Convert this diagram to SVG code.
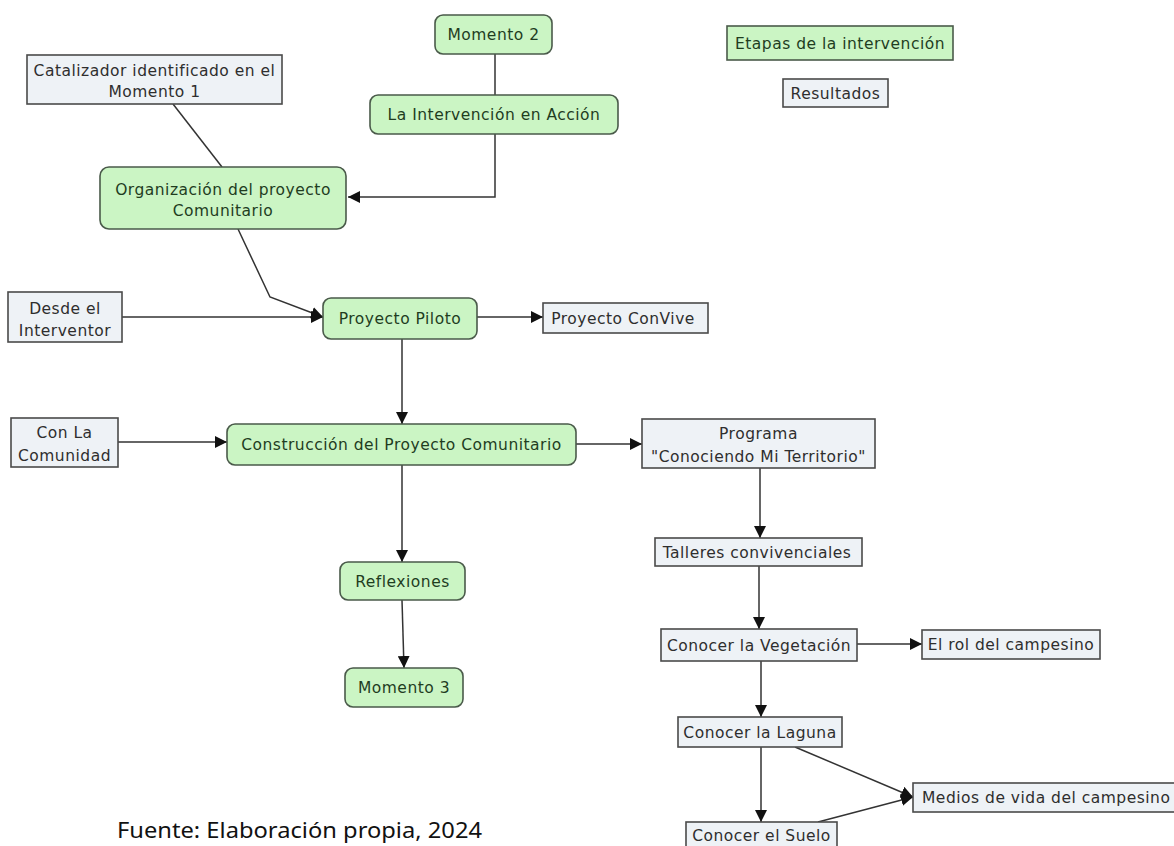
<svg xmlns="http://www.w3.org/2000/svg" width="1174" height="846" viewBox="0 0 1174 846">
  <style>
    .stage rect { fill: #cbf5c4; stroke: #4a5a4a; stroke-width: 1.6; }
    .result rect { fill: #eef2f6; stroke: #4a4a4a; stroke-width: 1.6; }
    .stage text { fill: #1f3d1f; }
    .result text { fill: #2e2e2e; }
    text { font-family: "DejaVu Sans", Verdana, sans-serif; font-size: 15.5px; letter-spacing: 0.5px; text-anchor: middle; }
    .edges path { fill: none; stroke: #333; stroke-width: 1.5; }
    .caption { font-family: "Noto Sans", "Liberation Sans", sans-serif; font-size: 21px; letter-spacing: 0; fill: #111; text-anchor: start; }
  </style>
  <defs>
    <marker id="arrow" viewBox="0 0 10 10" refX="10" refY="5" markerWidth="12" markerHeight="12" markerUnits="userSpaceOnUse" orient="auto">
      <path d="M0,0 L10,5 L0,10 z" fill="#111"/>
    </marker>
  </defs>
  <rect width="1174" height="846" fill="#ffffff"/>

  <!-- connectors -->
  <g class="edges">
    <path d="M495,54 V95"/>
    <path d="M495,134 V197 H348" marker-end="url(#arrow)"/>
    <path d="M173,104 L222,167"/>
    <path d="M238,229 L270,297 L323,317" marker-end="url(#arrow)"/>
    <path d="M122,317 H323" marker-end="url(#arrow)"/>
    <path d="M477,317 H543" marker-end="url(#arrow)"/>
    <path d="M402,339 V424" marker-end="url(#arrow)"/>
    <path d="M118,442 H227" marker-end="url(#arrow)"/>
    <path d="M576,444 H642" marker-end="url(#arrow)"/>
    <path d="M402,465 V562" marker-end="url(#arrow)"/>
    <path d="M402,600 L404,668" marker-end="url(#arrow)"/>
    <path d="M760,468 V538" marker-end="url(#arrow)"/>
    <path d="M759,566 V629" marker-end="url(#arrow)"/>
    <path d="M857,644 H922" marker-end="url(#arrow)"/>
    <path d="M761,661 V717" marker-end="url(#arrow)"/>
    <path d="M761,747 V822" marker-end="url(#arrow)"/>
    <path d="M795,747 L913,797" marker-end="url(#arrow)"/>
    <path d="M818,822 L913,797" marker-end="url(#arrow)"/>
  </g>

  <!-- nodes -->
  <g id="catalizador" class="result">
    <rect x="27" y="55" width="255" height="49"/>
    <text x="154.5" y="76">Catalizador identificado en el</text>
    <text x="154.5" y="97">Momento 1</text>
  </g>
  <g id="momento2" class="stage">
    <rect x="435" y="15" width="117" height="39" rx="8"/>
    <text x="493.5" y="40">Momento 2</text>
  </g>
  <g id="intervencion" class="stage">
    <rect x="370" y="95" width="248" height="39" rx="8"/>
    <text x="494" y="120">La Intervención en Acción</text>
  </g>
  <g id="organizacion" class="stage">
    <rect x="100" y="167" width="246" height="62" rx="9"/>
    <text x="223" y="195">Organización del proyecto</text>
    <text x="223" y="216">Comunitario</text>
  </g>
  <g id="etapas" class="stage">
    <rect x="727" y="26" width="226" height="34"/>
    <text x="840" y="49">Etapas de la intervención</text>
  </g>
  <g id="resultados" class="result">
    <rect x="783" y="79" width="105" height="28"/>
    <text x="835.5" y="99">Resultados</text>
  </g>
  <g id="desde-interventor" class="result">
    <rect x="8" y="292" width="114" height="50"/>
    <text x="65" y="314">Desde el</text>
    <text x="65" y="336">Interventor</text>
  </g>
  <g id="proyecto-piloto" class="stage">
    <rect x="323" y="298" width="154" height="41" rx="8"/>
    <text x="400" y="324">Proyecto Piloto</text>
  </g>
  <g id="proyecto-convive" class="result">
    <rect x="543" y="303" width="165" height="30"/>
    <text x="623" y="324">Proyecto ConVive</text>
  </g>
  <g id="con-la-comunidad" class="result">
    <rect x="11" y="418" width="107" height="49"/>
    <text x="64.5" y="438">Con La</text>
    <text x="64.5" y="461">Comunidad</text>
  </g>
  <g id="construccion" class="stage">
    <rect x="227" y="424" width="349" height="41" rx="8"/>
    <text x="401.5" y="450">Construcción del Proyecto Comunitario</text>
  </g>
  <g id="programa" class="result">
    <rect x="642" y="419" width="233" height="49"/>
    <text x="758.5" y="439">Programa</text>
    <text x="758.5" y="462">"Conociendo Mi Territorio"</text>
  </g>
  <g id="reflexiones" class="stage">
    <rect x="340" y="562" width="125" height="38" rx="8"/>
    <text x="402.5" y="587">Reflexiones</text>
  </g>
  <g id="momento3" class="stage">
    <rect x="345" y="668" width="118" height="39" rx="8"/>
    <text x="404" y="693">Momento 3</text>
  </g>
  <g id="talleres" class="result">
    <rect x="655" y="538" width="207" height="28"/>
    <text x="757" y="558">Talleres convivenciales</text>
  </g>
  <g id="vegetacion" class="result">
    <rect x="661" y="629" width="196" height="32"/>
    <text x="759" y="651">Conocer la Vegetación</text>
  </g>
  <g id="rol-campesino" class="result">
    <rect x="922" y="630" width="178" height="29"/>
    <text x="1011" y="650">El rol del campesino</text>
  </g>
  <g id="laguna" class="result">
    <rect x="678" y="717" width="164" height="30"/>
    <text x="760" y="738">Conocer la Laguna</text>
  </g>
  <g id="medios-vida" class="result">
    <rect x="913" y="783" width="270" height="29"/>
    <text x="922" y="803" style="text-anchor:start">Medios de vida del campesino</text>
  </g>
  <g id="suelo" class="result">
    <rect x="686" y="822" width="151" height="28"/>
    <text x="761.5" y="841">Conocer el Suelo</text>
  </g>

  <text class="caption" x="117" y="838" textLength="365" lengthAdjust="spacingAndGlyphs">Fuente: Elaboración propia, 2024</text>
</svg>
